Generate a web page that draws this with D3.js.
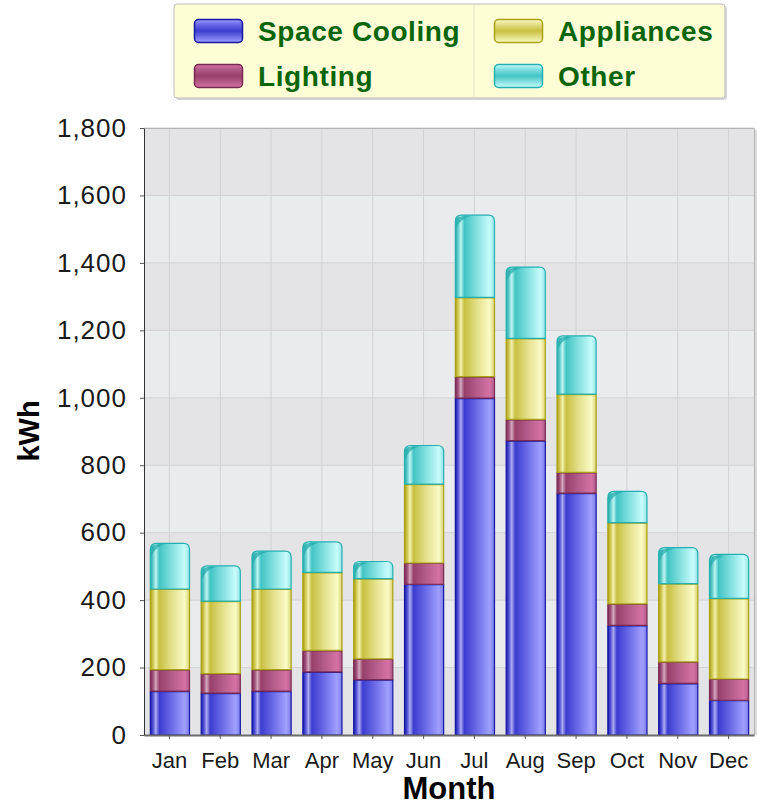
<!DOCTYPE html>
<html>
<head>
<meta charset="utf-8">
<script src="https://cdn.jsdelivr.net/npm/d3@7"></script>
<style>
	body { margin: 0; background: #fff; }
	text { font-family: 'Liberation Sans', Arial, sans-serif; }
</style>
</head>
<body>
<svg id="chart"></svg>
<script>
const months = ['Jan', 'Feb', 'Mar', 'Apr', 'May', 'Jun', 'Jul', 'Aug', 'Sep', 'Oct', 'Nov', 'Dec']
const spaceCooling = [130, 124, 130, 187, 164, 447, 999, 873, 717, 325, 153, 103]
const lighting = [64, 58, 64, 64, 62, 63, 64, 63, 62, 64, 64, 63]
const appliances = [239, 215, 239, 231, 238, 234, 235, 240, 232, 241, 232, 239]
const other = [137, 106, 114, 92, 52, 116, 245, 213, 174, 94, 108, 132]
const yTicks = [0, 200, 400, 600, 800, 1000, 1200, 1400, 1600, 1800]
const seriesNames = ['Space Cooling', 'Lighting', 'Appliances', 'Other']

const width = 757
const height = 806
const margin = { top: 128, right: 3, bottom: 71, left: 144 }

const styles = {
	'Space Cooling': { id: 'cool', stroke: '#1616a4', stops: ['#1a1aa8', '#5050d8', '#acacf2', '#3c3cd0', '#6c6ce8', '#a0a0ff', '#7a7aea'] },
	'Lighting': { id: 'light', stroke: '#7a2a52', stops: ['#7a2a55', '#a05078', '#d4a8c0', '#96406a', '#b45c8a', '#d472a4', '#b25a8a'] },
	'Appliances': { id: 'appl', stroke: '#aaa214', stops: ['#aaa214', '#d0c850', '#f4f0b0', '#c8c040', '#e4e08c', '#fbfbc6', '#d8d470'] },
	'Other': { id: 'other', stroke: '#24b0b0', stops: ['#22aaaa', '#60cccc', '#c0f4f4', '#42c4c4', '#84e0e0', '#c8fcfc', '#92e4e4'] }
}
const stopOffsets = [0, 0.07, 0.14, 0.23, 0.55, 0.88, 1]

const data = months.map((m, i) => ({
	month: m,
	'Space Cooling': spaceCooling[i],
	'Lighting': lighting[i],
	'Appliances': appliances[i],
	'Other': other[i]
}))

const svg = d3.select('#chart').attr('width', width).attr('height', height)
const defs = svg.append('defs')

seriesNames.forEach(name => {
	const s = styles[name]
	const g = defs.append('linearGradient').attr('id', 'g-' + s.id)
		.attr('x1', 0).attr('x2', 1).attr('y1', 0).attr('y2', 0)
	s.stops.forEach((c, i) => g.append('stop').attr('offset', stopOffsets[i]).attr('stop-color', c))
	const v = defs.append('linearGradient').attr('id', 'v-' + s.id)
		.attr('x1', 0).attr('x2', 0).attr('y1', 0).attr('y2', 1)
	v.append('stop').attr('offset', 0).attr('stop-color', s.stops[5])
	v.append('stop').attr('offset', 0.2).attr('stop-color', s.stops[4])
	v.append('stop').attr('offset', 0.5).attr('stop-color', s.stops[3])
	v.append('stop').attr('offset', 1).attr('stop-color', s.stops[5])
})

const xScale = d3.scaleBand()
	.domain(months)
	.range([margin.left, width - margin.right])
	.paddingInner(0.23)
	.paddingOuter(0.115)
const yScale = d3.scaleLinear()
	.domain([0, 1800])
	.range([height - margin.bottom, margin.top])

const plotW = width - margin.right - margin.left
const plotBottom = height - margin.bottom

// alternating background bands
svg.append('g')
	.selectAll('rect')
	.data(yTicks.slice(0, -1))
	.join('rect')
	.attr('x', margin.left)
	.attr('width', plotW)
	.attr('y', d => yScale(d + 200))
	.attr('height', d => yScale(d) - yScale(d + 200))
	.attr('fill', (d, i) => (i % 2 === 0 ? '#e4e4e6' : '#e9ebee'))

// grid lines
svg.append('g')
	.selectAll('line')
	.data(yTicks.slice(1))
	.join('line')
	.attr('x1', margin.left).attr('x2', margin.left + plotW)
	.attr('y1', d => yScale(d)).attr('y2', d => yScale(d))
	.attr('stroke', '#d2d2d4')
svg.append('g')
	.selectAll('line')
	.data(months)
	.join('line')
	.attr('x1', d => xScale(d) + xScale.bandwidth() / 2)
	.attr('x2', d => xScale(d) + xScale.bandwidth() / 2)
	.attr('y1', margin.top).attr('y2', plotBottom)
	.attr('stroke', '#d2d2d4')

// plot border (top / right)
svg.append('path')
	.attr('d', `M${margin.left},${margin.top + 0.5}H${margin.left + plotW + 0.5}V${plotBottom}`)
	.attr('fill', 'none').attr('stroke', '#b4b4b4')
svg.append('path')
	.attr('d', `M${margin.left + plotW + 2},${margin.top + 2}V${plotBottom}`)
	.attr('fill', 'none').attr('stroke', '#dcdcdc').attr('stroke-width', 2)

// stacked bars
const stacked = d3.stack().keys(seriesNames)(data)
const bw = xScale.bandwidth()
const r = 6

stacked.forEach((layer, li) => {
	const s = styles[layer.key]
	const isTop = li === stacked.length - 1
	svg.append('g')
		.selectAll('path')
		.data(layer)
		.join('path')
		.attr('d', d => {
			const x0 = xScale(d.data.month) + 0.5
			const x1 = x0 + bw
			const yT = yScale(d[1]) + 0.5
			const yB = yScale(d[0])
			if (isTop) {
				return `M${x0},${yB}V${yT + r}Q${x0},${yT} ${x0 + r},${yT}H${x1 - r}Q${x1},${yT} ${x1},${yT + r}V${yB}Z`
			}
			return `M${x0},${yB}V${yT}H${x1}V${yB}Z`
		})
		.attr('fill', `url(#g-${s.id})`)
		.attr('stroke', s.stroke)
		.attr('stroke-width', 1.2)
	if (isTop) {
		// dark gloss in the top-left corner
		svg.append('g')
			.selectAll('path')
			.data(layer)
			.join('path')
			.attr('d', d => {
				const x0 = xScale(d.data.month) + 1.5
				const yT = yScale(d[1]) + 1.5
				return `M${x0},${yT + 12}V${yT + r}Q${x0},${yT} ${x0 + r},${yT}H${x0 + 14}Q${x0 + 4},${yT + 2} ${x0},${yT + 12}Z`
			})
			.attr('fill', s.stops[0])
			.attr('opacity', 0.7)
	}
})

// axes
const xAxis = d3.axisBottom(xScale).tickSize(4).tickPadding(13).tickSizeOuter(0)
const yAxis = d3.axisLeft(yScale).tickValues(yTicks).tickSize(4).tickPadding(13)
	.tickFormat(d3.format(',')).tickSizeOuter(0)

const gx = svg.append('g')
	.attr('transform', `translate(0,${plotBottom})`)
	.call(xAxis)
gx.select('.domain').attr('stroke', '#6a6a6a').attr('stroke-width', 2)
gx.selectAll('.tick line').attr('stroke', '#555')
gx.selectAll('text')
	.attr('font-size', 22)
	.attr('fill', '#1a1a1a')
	.style('font-family', "'Liberation Sans', Arial, sans-serif")

const gy = svg.append('g')
	.attr('transform', `translate(${margin.left},0)`)
	.call(yAxis)
gy.select('.domain').attr('stroke', '#333')
gy.selectAll('.tick line').attr('stroke', '#555')
gy.selectAll('text')
	.attr('font-size', 26)
	.attr('letter-spacing', 1)
	.attr('fill', '#1a1a1a')
	.style('font-family', "'Liberation Sans', Arial, sans-serif")

// axis titles
svg.append('text')
	.attr('x', 449).attr('y', 799)
	.attr('text-anchor', 'middle')
	.attr('font-size', 31).attr('font-weight', 'bold').attr('fill', '#000')
	.text('Month')
svg.append('text')
	.attr('transform', 'translate(39,431) rotate(-90)')
	.attr('text-anchor', 'middle')
	.attr('font-size', 29).attr('font-weight', 'bold').attr('fill', '#000')
	.text('kWh')

// legend
const legend = svg.append('g')
legend.append('rect')
	.attr('x', 176).attr('y', 6).attr('width', 551).attr('height', 94).attr('rx', 3)
	.attr('fill', '#d8d8d8')
legend.append('rect')
	.attr('x', 174).attr('y', 4).attr('width', 551).attr('height', 94).attr('rx', 3)
	.attr('fill', '#fdfdd6').attr('stroke', '#bdbdbd')
legend.append('line')
	.attr('x1', 474).attr('x2', 474).attr('y1', 5).attr('y2', 97)
	.attr('stroke', '#e2e2cc')

const legendPos = [
	{ name: 'Space Cooling', x: 194, y: 19 },
	{ name: 'Lighting', x: 194, y: 64 },
	{ name: 'Appliances', x: 494, y: 19 },
	{ name: 'Other', x: 494, y: 64 }
]
legendPos.forEach(p => {
	const s = styles[p.name]
	legend.append('rect')
		.attr('x', p.x + 0.5).attr('y', p.y + 0.5).attr('width', 48).attr('height', 23).attr('rx', 4)
		.attr('fill', `url(#v-${s.id})`).attr('stroke', s.stroke).attr('stroke-width', 1.5)
	legend.append('text')
		.attr('x', p.x + 64).attr('y', p.y + 22)
		.attr('font-size', 28).attr('font-weight', 'bold').attr('fill', '#0b660b')
		.attr('letter-spacing', 0.6)
		.text(p.name)
})
</script>
</body>
</html>
